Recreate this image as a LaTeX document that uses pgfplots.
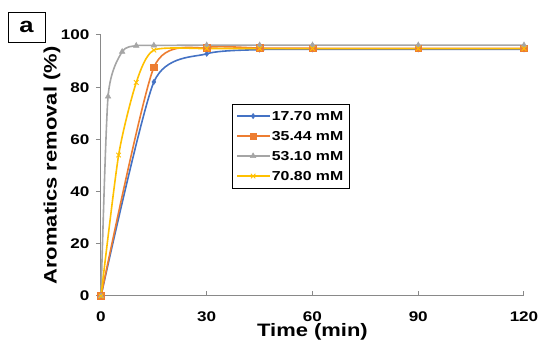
\documentclass[border=0pt]{standalone}
\usepackage{pgfplots}
\pgfplotsset{compat=1.18}
\usepackage{fontspec}
\setmainfont{Liberation Sans}[FakeStretch=1.22]
\definecolor{sBlue}{RGB}{68,114,196}
\definecolor{sOrange}{RGB}{237,125,49}
\definecolor{sGray}{RGB}{165,165,165}
\definecolor{sYellow}{RGB}{255,192,0}
\definecolor{axGray}{RGB}{137,137,137}
\begin{document}
\begin{tikzpicture}
\useasboundingbox (-101pt,-56pt) rectangle (449pt,296pt);
\begin{axis}[
  scale only axis, width=423pt, height=261pt,
  xmin=0, xmax=120, ymin=0, ymax=100,
  xtick={0,30,60,90,120}, ytick={0,20,40,60,80,100},
  axis lines*=left,
  axis line style={draw=axGray, line width=1pt},
  tick style={draw=axGray, line width=1pt},
  tick align=outside, major tick length=5pt,
  x tick style={yshift=5pt},
  /pgf/number format/assume math mode=true,
  ticklabel style={font=\bfseries\fontsize{14}{14}\selectfont},
  xticklabel style={yshift=-7pt},
  yticklabel style={xshift=-3pt},
  xlabel={Time (min)}, ylabel={Aromatics removal (\%)},
  label style={font=\bfseries\fontsize{18}{18}\selectfont, inner sep=0pt},
  xlabel style={at={(axis description cs:0.5,-0.1034)}, anchor=north},
  ylabel style={at={(axis description cs:-0.1158,0.5)}, anchor=center},
  clip=false,
  every axis plot/.append style={line width=1.6pt, smooth, tension=0.4},
  legend style={at={(0.3097,0.7356)}, anchor=north west, draw=black, line width=0.6pt,
    font=\bfseries\fontsize{13}{13}\selectfont,
    inner xsep=4pt, inner ysep=7pt,
    nodes={inner xsep=2pt, inner ysep=0pt, text height=9.5pt, text depth=0pt},
    row sep=10.5pt},
  legend cell align=left,
  legend image code/.code={\draw[mark repeat=2,mark phase=2,#1] plot coordinates {(0pt,0pt) (16pt,0pt) (32pt,0pt)};},
]
\addplot[color=sBlue, mark=diamond*, mark size=2.6pt, mark options={solid, line width=0.5pt}] coordinates {
(0,0)(15,82)(30,92.8)(45,94.4)(60,94.5)(90,94.5)(120,94.5)};
\addlegendentry{17.70 mM}
\addplot[color=sOrange, mark=square*, mark size=3.3pt, mark options={solid, line width=0.5pt}] coordinates {
(0,0)(15,87.6)(30,95.2)(45,95.0)(60,94.9)(90,94.9)(120,94.9)};
\addlegendentry{35.44 mM}
\addplot[color=sGray, mark=triangle*, mark size=3.2pt, mark options={solid, line width=0.5pt}] coordinates {
(0,0)(2,76.4)(6,93.6)(10,95.9)(15,96.0)(30,96.1)(45,96.1)(60,96.1)(90,96.1)(120,96.1)};
\addlegendentry{53.10 mM}
\addplot[color=sYellow, mark=x, mark size=3.2pt, mark options={solid, line width=0.9pt}] coordinates {
(0,0)(5,54)(10,81.8)(15,94.2)(30,94.8)(45,94.8)(60,94.8)(90,94.8)(120,94.8)};
\addlegendentry{70.80 mM}
\end{axis}
\node[draw=black, line width=0.9pt, minimum width=37pt, minimum height=30pt, inner sep=0pt,
  font=\bfseries\fontsize{21}{21}\selectfont] at (-74.5pt,269pt) {a};
\end{tikzpicture}
\end{document}
